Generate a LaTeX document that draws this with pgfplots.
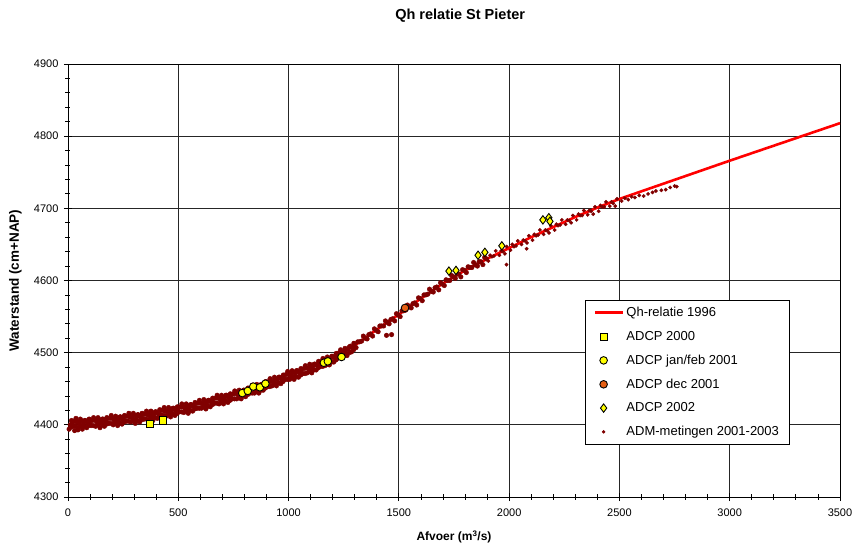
\documentclass[border=0pt]{standalone}
\usepackage{pgfplots}
\pgfplotsset{compat=1.18}
\usepackage{fontspec}
\setmainfont{Liberation Sans}
\definecolor{dotred}{RGB}{128,0,0}
\definecolor{adcpyellow}{RGB}{255,255,0}
\definecolor{adcporange}{RGB}{230,95,20}
\pgfplotsset{longline legend/.style={legend image code/.code={\draw[red, line width=2.8pt] (0pt,0pt) -- (28pt,0pt);}}}
\begin{document}
\begin{tikzpicture}
\path[use as bounding box] (-68pt,-47pt) rectangle (784pt,497pt);
\begin{axis}[
  at={(0pt,0pt)}, anchor=south west,
  scale only axis, width=772pt, height=433pt,
  xmin=0, xmax=3500, ymin=4300, ymax=4900,
  xtick distance=500, ytick distance=100, minor tick num=4,
  xtick pos=left, ytick pos=left,
  tick align=center, major tick length=8pt, minor tick length=5pt,
  tick style={black, line width=0.8pt},
  grid=major, major grid style={black!85, line width=0.9pt},
  axis line style={black, line width=0.9pt},
  /pgf/number format/assume math mode=true,
  /pgf/number format/set thousands separator={},
  tick label style={font=\fontsize{11}{13}\selectfont},
  xticklabel style={yshift=-4pt},
  yticklabel style={xshift=-2pt},
  xlabel={Afvoer (m\textsuperscript{3}/s)},
  ylabel={Waterstand (cm+NAP)},
  xlabel style={font=\fontsize{12}{14}\selectfont\bfseries, at={(axis description cs:0.5,-0.092)}, anchor=center},
  ylabel style={font=\fontsize{13.5}{15}\selectfont\bfseries, at={(axis description cs:-0.068,0.5)}, anchor=center},
  title={Qh relatie St Pieter},
  title style={font=\fontsize{14.5}{17}\selectfont\bfseries, at={(axis description cs:0.508,1.097)}, anchor=center},
  legend cell align=left,
  legend style={at={(0.67,0.455)}, anchor=north west, draw=black, line width=0.9pt,
    font=\fontsize{13}{15}\selectfont, row sep=9pt, inner xsep=8pt, inner ysep=5pt,
    /tikz/every even column/.append style={column sep=3pt}},
  adm/.style={only marks, color=dotred, mark=*, mark size=2.3pt, mark options={fill=dotred, draw=none}},
  adcp/.style={only marks, mark options={fill=adcpyellow, draw=black, line width=0.9pt}},
]
% ADM-metingen 2001-2003, dense part (below the Qh line)
\addplot[adm, forget plot] coordinates {
(5,4394) (10,4400) (16,4406) (25,4398) (30,4405) (36,4409) (45,4396) (50,4402) (56,4408)
(65,4394) (70,4403) (76,4406) (85,4396) (90,4402) (96,4408) (105,4399) (110,4406) (116,4410)
(125,4398) (130,4404) (136,4410) (145,4396) (150,4405) (156,4408) (165,4398) (170,4404) (176,4410)
(185,4402) (190,4409) (196,4413) (205,4400) (210,4406) (216,4412) (225,4399) (230,4408) (236,4411)
(245,4401) (250,4407) (256,4413) (265,4405) (270,4412) (276,4416) (285,4404) (290,4410) (296,4416)
(305,4402) (310,4411) (316,4414) (325,4404) (330,4410) (336,4416) (345,4408) (350,4415) (356,4419)
(365,4407) (370,4413) (376,4419) (385,4406) (390,4415) (396,4418) (405,4409) (410,4415) (416,4421)
(425,4413) (430,4420) (436,4424) (445,4412) (450,4418) (456,4424) (465,4411) (470,4420) (476,4423)
(485,4413) (490,4419) (496,4425) (505,4418) (510,4425) (516,4429) (525,4417) (530,4423) (536,4429)
(545,4416) (550,4425) (556,4428) (565,4419) (570,4425) (576,4431) (585,4423) (590,4430) (596,4434)
(605,4423) (610,4429) (616,4435) (625,4422) (630,4431) (636,4434) (645,4425) (650,4431) (656,4437)
(665,4430) (670,4437) (676,4441) (685,4429) (690,4435) (696,4441) (705,4429) (710,4438) (716,4441)
(725,4431) (730,4437) (736,4443) (745,4436) (750,4443) (756,4447) (765,4436) (770,4442) (776,4448)
(785,4436) (790,4445) (796,4448) (805,4439) (810,4445) (816,4451) (825,4444) (830,4451) (836,4455)
(845,4444) (850,4450) (856,4456) (865,4444) (870,4453) (876,4456) (885,4448) (890,4454) (896,4460)
(905,4453) (910,4460) (916,4464) (925,4454) (930,4460) (936,4466) (945,4454) (950,4463) (956,4466)
(965,4457) (970,4463) (976,4469) (985,4463) (990,4470) (996,4474) (1005,4463) (1010,4469) (1016,4475)
(1025,4463) (1030,4472) (1036,4475) (1045,4466) (1050,4472) (1056,4478) (1065,4471) (1070,4478) (1076,4482)
(1085,4472) (1090,4478) (1096,4484) (1105,4472) (1110,4481) (1116,4484) (1125,4476) (1130,4482) (1136,4488)
(1145,4481) (1150,4488) (1156,4492) (1165,4482) (1170,4488) (1176,4494) (1185,4483) (1190,4492) (1196,4495)
(1205,4487) (1210,4493) (1216,4499) (1225,4493) (1230,4500) (1236,4504) (1245,4494) (1250,4500) (1256,4506)
(1265,4496) (1270,4505) (1276,4508) (1285,4501) (1290,4507) (1296,4513)
(20,4401) (40,4404) (60,4399) (80,4405) (100,4401) (120,4407) (140,4402) (160,4406) (180,4403) (200,4409)
(220,4404) (240,4410) (260,4406) (280,4411) (300,4407) (320,4413) (340,4409) (360,4414) (380,4411) (400,4417)
(420,4414) (440,4419) (460,4416) (480,4422) (500,4419) (520,4425) (540,4422) (560,4427) (580,4424) (600,4430)
(620,4427) (640,4433) (660,4430) (680,4437) (700,4434) (720,4440) (740,4437) (760,4444) (780,4441) (800,4447)
(820,4444) (840,4451) (860,4448) (880,4455) (900,4453) (920,4460) (940,4458) (960,4465) (980,4463) (1000,4470)
(1020,4467) (1040,4474) (1060,4471) (1080,4479) (1100,4476) (1120,4484) (1140,4481) (1160,4489) (1180,4486) (1200,4494)
(1220,4492) (1240,4501) (1260,4499) (1280,4509)
(15,4397) (18,4405) (35,4398) (38,4406) (55,4398) (58,4406) (75,4398) (78,4406) (95,4399) (98,4407)
(115,4399) (118,4407) (135,4400) (138,4408) (155,4400) (158,4408) (175,4401) (178,4409) (195,4402) (198,4410)
(215,4402) (218,4410) (235,4403) (238,4411) (255,4404) (258,4412) (275,4405) (278,4413) (295,4406) (298,4414)
(315,4406) (318,4414) (335,4407) (338,4415) (355,4408) (358,4416) (375,4409) (378,4417) (395,4410) (398,4418)
(415,4412) (418,4420) (435,4413) (438,4421) (455,4414) (458,4422) (475,4415) (478,4423) (495,4416) (498,4424)
(515,4418) (518,4426) (535,4419) (538,4427) (555,4420) (558,4428) (575,4422) (578,4430) (595,4423) (598,4431)
(615,4425) (618,4433) (635,4426) (638,4434) (655,4428) (658,4436) (675,4430) (678,4438) (695,4431) (698,4439)
(715,4433) (718,4441) (735,4434) (738,4442) (755,4436) (758,4444) (775,4438) (778,4446) (795,4440) (798,4448)
(815,4442) (818,4450) (835,4444) (838,4452) (855,4446) (858,4454) (875,4448) (878,4456) (895,4451) (898,4459)
(915,4453) (918,4461) (935,4456) (938,4464) (955,4458) (958,4466) (975,4460) (978,4468) (995,4463) (998,4471)
(1015,4465) (1018,4473) (1035,4467) (1038,4475) (1055,4469) (1058,4477) (1075,4471) (1078,4479) (1095,4474) (1098,4482)
(1115,4476) (1118,4484) (1135,4479) (1138,4487) (1155,4481) (1158,4489) (1175,4484) (1178,4492) (1195,4487) (1198,4495)
(1215,4490) (1218,4498) (1235,4493) (1238,4501) (1255,4496) (1258,4504) (1275,4500) (1278,4508) (1295,4504) (1298,4512)
(1306,4507) (1314,4515) (1331,4516) (1339,4523) (1356,4519) (1364,4525) (1381,4523) (1389,4533)
(1406,4529) (1414,4537) (1431,4537) (1439,4544) (1456,4540) (1464,4546) (1481,4544) (1489,4554)
(1506,4550) (1514,4558) (1531,4559) (1539,4566) (1556,4562) (1564,4568) (1581,4566) (1589,4576)
(1606,4572) (1614,4580) (1631,4581) (1639,4588) (1656,4584) (1664,4590) (1681,4587) (1689,4597)
(1706,4593) (1714,4601) (1731,4600) (1739,4607) (1756,4603) (1764,4609) (1781,4605) (1789,4615)
(1806,4611) (1814,4619) (1831,4618) (1839,4625) (1856,4620) (1864,4626) (1881,4622) (1889,4632)
(1322,4515) (1347,4520) (1372,4526) (1397,4531) (1422,4537) (1447,4542) (1472,4547) (1497,4552)
(1522,4558) (1547,4564) (1572,4569) (1597,4575) (1622,4580) (1647,4585) (1672,4591) (1697,4595)
(1722,4600) (1747,4605) (1772,4609) (1797,4614) (1822,4618) (1847,4622) (1872,4626) (1897,4630)
(30,4392) (45,4393) (1444,4524) (1467,4525)
};
% Qh-relatie 1996
\addplot[red, line width=2.6pt, no marks, forget plot] coordinates {
(1280,4506) (1300,4510) (1400,4532) (1500,4553) (1600,4575)
(1700,4596) (1800,4614) (1900,4630) (2000,4645) (2100,4660) (2200,4674) (2300,4688)
(2400,4701) (2500,4713) (3000,4766) (3500,4818)
};
% ADM-metingen 2001-2003, sparser upper part (on top of the line)
\addplot[adm, mark size=1.7pt, forget plot] coordinates {
(1906,4627) (1914,4635) (1931,4634) (1939,4641) (1956,4635) (1964,4641) (1981,4637) (1989,4647)
(2006,4642) (2014,4650) (2031,4648) (2039,4655) (2056,4650) (2064,4656) (2081,4652) (2089,4662)
(2106,4656) (2114,4664) (2131,4663) (2139,4670) (2156,4664) (2164,4670) (2181,4666) (2189,4676)
(2206,4670) (2214,4678) (2231,4677) (2239,4684) (2256,4678) (2264,4684) (2281,4680) (2289,4690)
(2306,4684) (2314,4692) (2331,4690) (2339,4697) (2356,4691) (2364,4697) (2381,4692) (2389,4702)
(2406,4696) (2414,4704) (2431,4702) (2439,4709) (2456,4703) (2464,4709) (2481,4703) (2489,4713)
(1922,4633) (1972,4640) (2022,4647) (2072,4655) (2122,4662) (2172,4669) (2222,4676) (2272,4683)
(2322,4690) (2372,4696) (2422,4702) (2472,4707)
(2510,4710) (2525,4714) (2540,4712) (2555,4716) (2570,4715) (2590,4718) (2610,4717) (2630,4720)
(2650,4722) (2665,4724) (2690,4725) (2710,4726) (2730,4729) (2750,4731) (2760,4730)
(1988,4622) (2079,4644)
};
% ADCP jan/feb 2001
\addplot[adcp, mark=*, mark size=3.8pt, forget plot] coordinates {
(790,4444) (815,4447) (840,4453) (870,4452) (895,4457) (1160,4486) (1178,4488) (1240,4494)
};
% ADCP dec 2001
\addplot[only marks, mark=*, mark size=3.8pt, mark options={fill=adcporange, draw=black, line width=0.9pt}, forget plot] coordinates {
(1528,4562)
};
% ADCP 2000
\addplot[adcp, mark=square*, mark size=3.6pt, forget plot] coordinates {
(372,4401) (432,4406)
};
% ADCP 2002
\addplot[adcp, mark=diamond*, mark size=4.2pt, forget plot] coordinates {
(1727,4613) (1759,4614) (1859,4635) (1890,4639) (1967,4648) (2153,4684) (2180,4687) (2185,4682)
};
% legend
\addlegendimage{longline legend}
\addlegendentry{Qh-relatie 1996}
\addlegendimage{adcp, mark=square*, mark size=3.6pt}
\addlegendentry{ADCP 2000}
\addlegendimage{adcp, mark=*, mark size=3.8pt}
\addlegendentry{ADCP jan/feb 2001}
\addlegendimage{only marks, mark=*, mark size=3.8pt, mark options={fill=adcporange, draw=black, line width=0.9pt}}
\addlegendentry{ADCP dec 2001}
\addlegendimage{adcp, mark=diamond*, mark size=4.2pt}
\addlegendentry{ADCP 2002}
\addlegendimage{only marks, color=dotred, mark=*, mark size=1.2pt, mark options={fill=dotred, draw=none}}
\addlegendentry{ADM-metingen 2001-2003}
\end{axis}
\end{tikzpicture}
\end{document}
